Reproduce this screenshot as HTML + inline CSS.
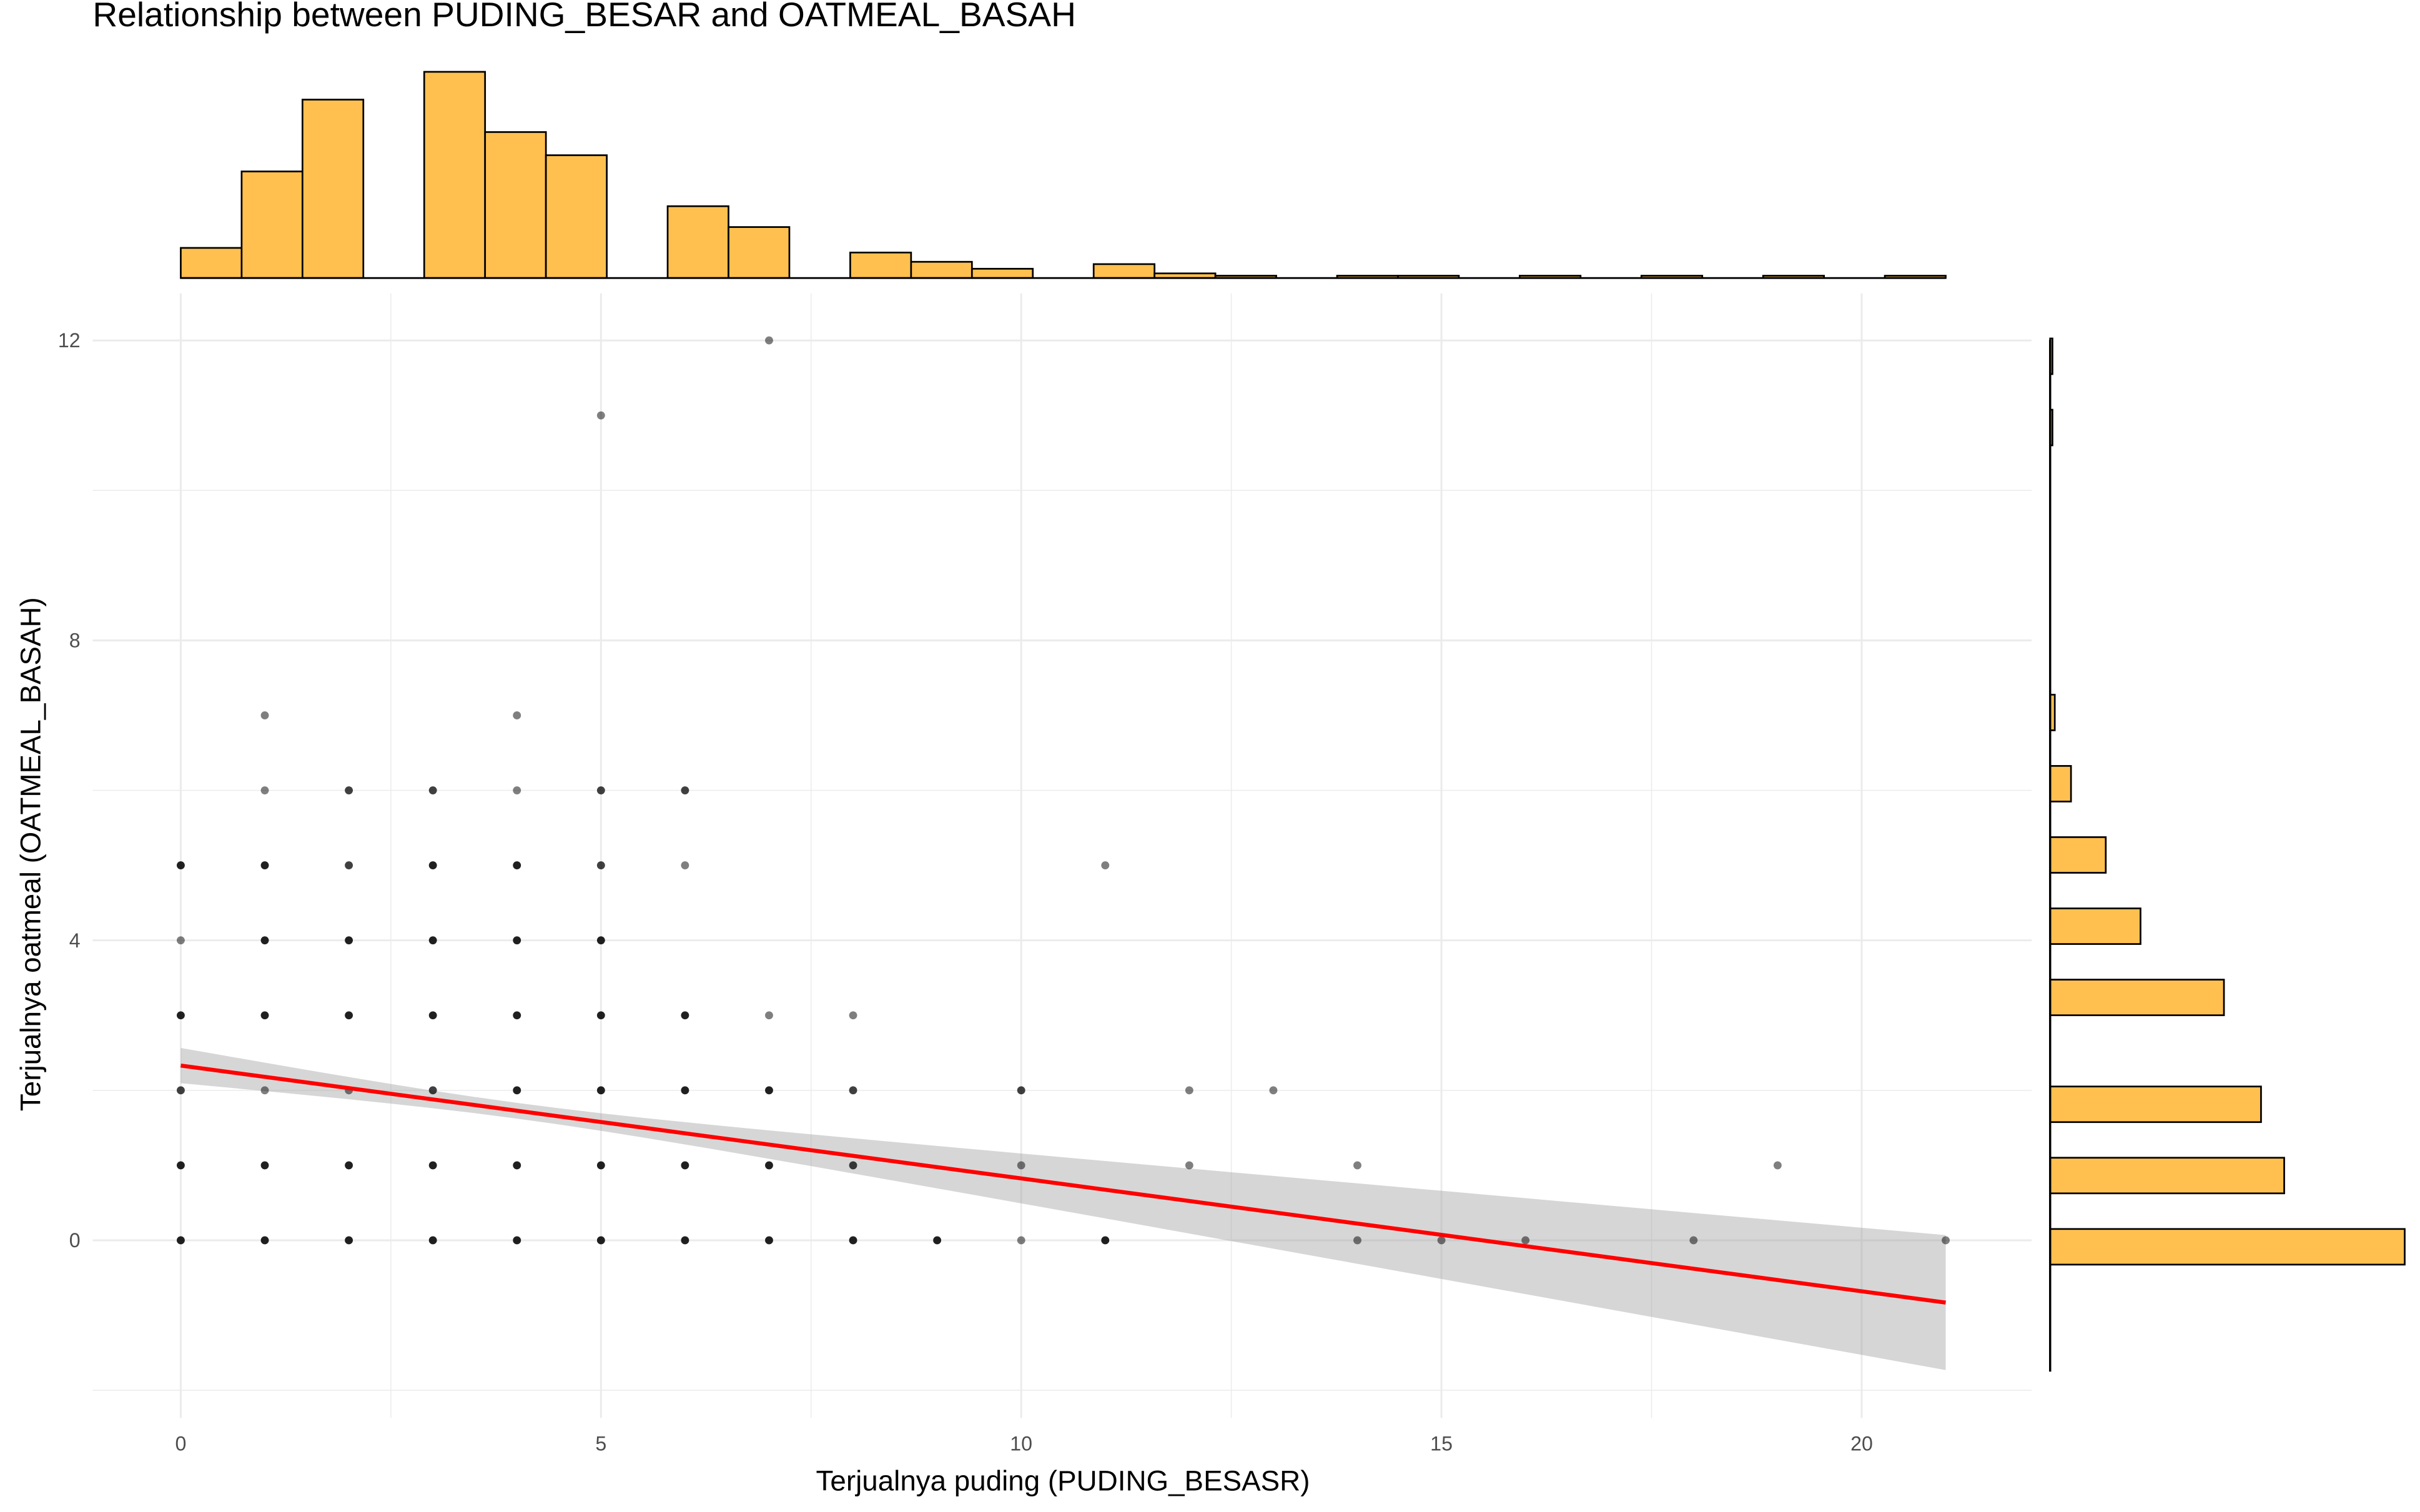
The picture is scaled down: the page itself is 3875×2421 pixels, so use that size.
<!DOCTYPE html>
<html><head><meta charset="utf-8">
<style>html,body{margin:0;padding:0;background:#fff}svg{display:block}text{font-family:"Liberation Sans",sans-serif}</style>
</head><body>
<svg id="chart" width="3875" height="2421" viewBox="0 0 1566.4 978.9" preserveAspectRatio="none" xmlns="http://www.w3.org/2000/svg">
<text x="60" y="17" font-size="22.3" fill="#000">Relationship between PUDING_BESAR and OATMEAL_BASAH</text>
<g id="grid"></g>
<g id="band"></g>
<g id="points"></g>
<g id="fit"></g>
<g id="tophist"></g>
<g id="sidehist"></g>
<g id="axes"></g>
<text x="688" y="965" font-size="18.5" text-anchor="middle" fill="#000">Terjualnya puding (PUDING_BESASR)</text>
<text transform="translate(26,553) rotate(-90)" font-size="18.5" text-anchor="middle" fill="#000">Terjualnya oatmeal (OATMEAL_BASAH)</text>
</svg>
<script>
const xTicks=[0,5,10,15,20];
const yTicks=[0,4,8,12];
const xMinor=[2.5,7.5,12.5,17.5];
const yMinor=[-2,2,6,10];
const ptX=[0,1,2,3,4,5,6,7,8,9,10,11,14,15,16,18,21, 0,1,2,3,4,5,6,7,8,10,12,14,19, 0,1,2,3,4,5,6,7,8,10,12,13, 0,1,2,3,4,5,6,7,8, 0,1,2,3,4,5, 0,1,2,3,4,5,6,11, 1,2,3,4,5,6, 1,4, 5,7];
const ptY=[0,0,0,0,0,0,0,0,0,0,0,0,0,0,0,0,0, 1,1,1,1,1,1,1,1,1,1,1,1,1, 2,2,2,2,2,2,2,2,2,2,2,2, 3,3,3,3,3,3,3,3,3, 4,4,4,4,4,4, 5,5,5,5,5,5,5,5, 6,6,6,6,6,6, 7,7, 11,12];
const ptN=[3,3,3,3,3,3,3,3,3,3,1,3,1,1,1,1,1, 3,3,3,3,3,3,3,3,2,1,1,1,1, 2,1,1,2,3,3,3,3,2,2,1,1, 3,3,3,3,3,3,3,1,1, 1,3,3,3,3,3, 3,3,2,3,3,2,1,1, 1,2,2,1,2,2, 1,1, 1,1];
const fitIntercept=[2.33];
const fitSlope=[-0.1505];
const seParams=[0.011,0.002765,4];
const topCounts=[13,46,77,0,89,63,53,0,31,22,0,11,7,4,0,6,2,1,0,1,1,0,1,0,1,0,1,0,1];
const sideValues=[0,1,2,3,4,5,6,7,11,12];
const sideCounts=[153,101,91,75,39,24,9,2,1,1];

const NS='http://www.w3.org/2000/svg';
const X=v=>117+v*54.4, Y=v=>803-v*48.55;
function mk(tag,parent,attrs){const e=document.createElementNS(NS,tag);for(const k in attrs)e.setAttribute(k,attrs[k]);document.getElementById(parent).appendChild(e);return e;}

yMinor.forEach(v=>{const e=mk('line','grid',{x1:60,x2:1315,y1:Y(v),y2:Y(v),stroke:'#ebebeb','stroke-width':0.6});

});
yTicks.forEach(v=>{const e=mk('line','grid',{x1:60,x2:1315,y1:Y(v),y2:Y(v),stroke:'#ebebeb','stroke-width':1.2});


const t=mk('text','axes',{x:52,y:Y(v)+4.5,'font-size':13,'text-anchor':'end',fill:'#4d4d4d'});t.textContent=v;

});
xMinor.forEach(v=>{const e=mk('line','grid',{x1:X(v),x2:X(v),y1:190,y2:918,stroke:'#ebebeb','stroke-width':0.6});

});
xTicks.forEach(v=>{const e=mk('line','grid',{x1:X(v),x2:X(v),y1:190,y2:918,stroke:'#ebebeb','stroke-width':1.2});


const t=mk('text','axes',{x:X(v),y:939,'font-size':13,'text-anchor':'middle',fill:'#4d4d4d'});t.textContent=v;

});

// band
let up=[],lo=[];
for(let i=0;i<=42;i++){const x=21*i/42;const f=fitIntercept[0]+fitSlope[0]*x;const h=Math.sqrt(seParams[0]+seParams[1]*(x-seParams[2])**2);
up.push(X(x)+','+Y(f+h));lo.unshift(X(x)+','+Y(f-h));}
const b=mk('polygon','band',{points:up.concat(lo).join(' '),fill:'#999','fill-opacity':0.4});



ptX.forEach((x,i)=>{const c=mk('circle','points',{cx:X(x),cy:Y(ptY[i]),r:2.6,fill:'#000','fill-opacity':1-Math.pow(0.5,ptN[i])});

});

const l=mk('line','fit',{x1:X(0),y1:Y(fitIntercept[0]),x2:X(21),y2:Y(fitIntercept[0]+fitSlope[0]*21),stroke:'#ff0000','stroke-width':2.6});



// top histogram
const bw=21/topCounts.length;
topCounts.forEach((c,i)=>{if(c<=0)return;const r=mk('rect','tophist',{x:X(i*bw),y:180-c*1.5,width:bw*54.4,height:c*1.5,fill:'#ffc04f',stroke:'#000','stroke-width':1.1});

});
const tb=mk('line','tophist',{x1:X(0),x2:X(21),y1:180,y2:180,stroke:'#000','stroke-width':1.2});



// side histogram
const sLo=-0.324, sW=0.475;
sideValues.forEach((v,i)=>{const k=Math.floor((v-sLo)/sW+0.05);const a=sLo+sW*k,bb=a+sW;
const w=sideCounts[i]*1.5;const r=mk('rect','sidehist',{x:1327,y:Y(bb),width:w,height:Y(a)-Y(bb),fill:'#ffc04f',stroke:'#000','stroke-width':1.1});

});
const sb=mk('line','sidehist',{x1:1327,x2:1327,y1:220,y2:888,stroke:'#000','stroke-width':1.4});


</script>
</body></html>
